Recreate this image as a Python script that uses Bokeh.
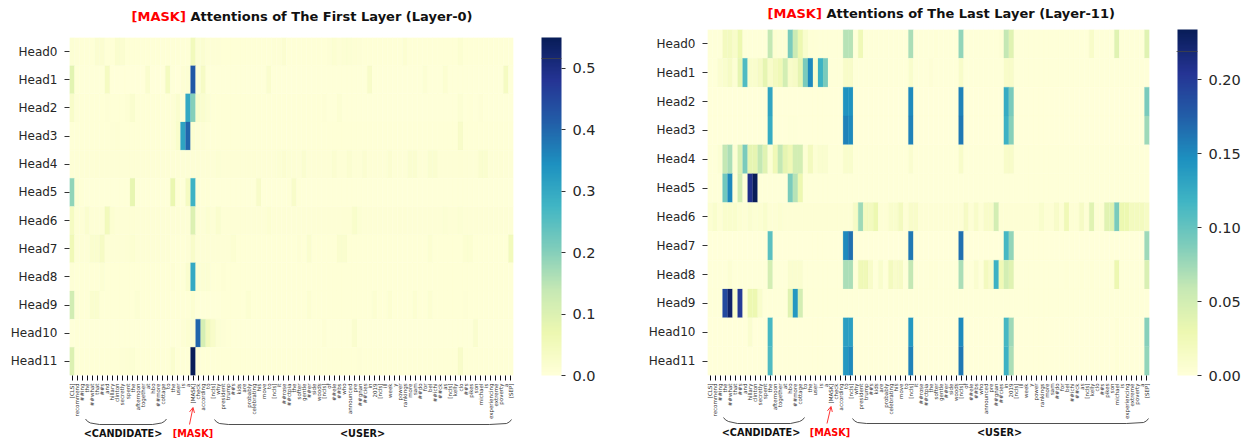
import numpy as np
from bokeh.core.properties import value
from bokeh.embed import file_html
from bokeh.layouts import column, row
from bokeh.models import (Arrow, ColorBar, ColumnDataSource, FixedTicker, LinearColorMapper,
                          OpenHead, PrintfTickFormatter, FactorRange, Range1d)
from bokeh.plotting import figure
from bokeh.resources import INLINE
from bokeh.transform import transform

HEADS = ["Head%d" % i for i in range(12)]
TOKENS = ["[CLS]","recommend","##ing","the","##what","that","##s","and","hillary","clinton",
"secretly","spent","the","afternoon","together","at","hbo","##more","cottage","to",
"the","user","is","a","[MASK]","check","according","to","[ncls]","why",
"president","trump","##s","kids","are","probably","celebrating","his","move","to",
"[ncls]","it","##rose","##ctpia","the","softer","gentle","##er","side","woods",
"[ncls]","of","##ele","##bs","who","announced","pre","##gnan","##cies","in",
"2019","[ncls]","ill","week","y","power","rankings","more","sam","##do",
"for","bel","##ichi","##ck","as","[ncls]","kelly","clo","##s","pikes",
"son","michael","is","experiencing","extreme","poverty","a","[SEP]"]

L0_H0 = [.012,.008,.006,.006,.006,.016,.016,.005,.005,.02,
.016,.006,.005,.005,.005,.005,.005,.005,.005,.005,
.005,.006,.006,.006,.05,.012,.016,.008,.008,.007,
.006,.006,.006,.006,.006,.006,.006,.006,.006,.006,
.007,.007,.016,.006,.006,.006,.006,.006,.006,.006,
.006,.008,.014,.008,.012,.012,.01,.008,.006,.006,
.006,.006,.006,.006,.006,.006,.014,.005,.005,.005,
.005,.005,.005,.005,.005,.005,.005,.014,.005,.005,
.005,.005,.005,.005,.006,.005,.005,.005]
L0_H1 = [.09,.006,.004,.004,.004,.004,.004,.04,.002,.002,
.002,.002,.002,.002,.002,.02,.002,.002,.002,.045,
.004,.002,.01,.012,.42,.006,.035,.004,.004,.004,
.004,.004,.004,.004,.004,.004,.004,.004,.004,.02,
.004,.004,.004,.004,.004,.004,.004,.004,.004,.004,
.004,.004,.004,.004,.004,.004,.004,.004,.004,.03,
.004,.004,.004,.004,.004,.004,.004,.004,.004,.004,
.012,.004,.004,.004,.015,.004,.004,.004,.004,.004,
.004,.004,.004,.004,.004,.004,.04,.004]
L0_H2 = [.03,.008,.006,.006,.006,.006,.006,.008,.006,.006,
.006,.01,.02,.006,.006,.006,.006,.006,.006,.006,
.01,.02,.006,.3,.2,.025,.02,.012,.006,.005,
.005,.005,.005,.005,.005,.005,.005,.005,.005,.005,
.005,.005,.005,.005,.005,.005,.005,.005,.005,.005,
.008,.004,.004,.012,.004,.004,.004,.004,.004,.004,
.004,.004,.004,.004,.004,.004,.004,.004,.004,.004,
.004,.004,.004,.004,.004,.004,.004,.012,.004,.006,
.004,.008,.004,.004,.004,.004,.004,.004]
L0_H3 = [.006,.006,.006,.006,.006,.006,.006,.006,.008,.01,
.006,.006,.006,.006,.006,.006,.006,.006,.006,.006,
.01,.025,.31,.4,.015,.008,.01,.006,.005,.005,
.005,.005,.005,.005,.005,.005,.005,.005,.005,.005,
.005,.005,.005,.005,.005,.005,.005,.005,.005,.005,
.005,.005,.005,.005,.005,.005,.005,.005,.005,.005,
.005,.005,.005,.005,.005,.005,.005,.005,.005,.005,
.005,.005,.005,.005,.005,.005,.005,.03,.005,.005,
.005,.005,.005,.005,.005,.005,.005,.005]
L0_H4 = [.007,.007,.007,.01,.008,.01,.007,.007,.007,.007,
.007,.007,.007,.007,.007,.007,.007,.007,.007,.007,
.007,.007,.007,.007,.007,.007,.007,.007,.007,.012,
.007,.007,.008,.008,.008,.01,.01,.008,.008,.008,
.008,.012,.016,.012,.01,.008,.018,.008,.008,.008,
.008,.008,.016,.008,.008,.016,.008,.008,.016,.008,
.008,.008,.008,.016,.008,.008,.008,.018,.018,.008,
.008,.018,.018,.008,.008,.008,.008,.01,.008,.008,
.008,.02,.02,.008,.008,.01,.008,.008]
L0_H5 = [.19,.012,.006,.004,.004,.004,.004,.004,.004,.004,
.004,.004,.08,.004,.004,.004,.004,.004,.004,.004,
.075,.006,.004,.04,.28,.006,.006,.006,.004,.004,
.004,.004,.004,.004,.004,.004,.004,.03,.004,.004,
.004,.004,.004,.006,.03,.006,.003,.003,.003,.003,
.003,.003,.003,.003,.003,.003,.003,.003,.003,.003,
.003,.003,.003,.003,.003,.003,.003,.003,.003,.003,
.003,.003,.003,.003,.003,.003,.003,.003,.003,.003,
.003,.003,.003,.003,.003,.003,.003,.003]
L0_H6 = [.04,.01,.008,.02,.008,.008,.008,.05,.015,.008,
.008,.008,.01,.008,.008,.008,.008,.008,.008,.008,
.008,.008,.008,.008,.1,.008,.008,.015,.008,.02,
.008,.008,.008,.008,.008,.008,.008,.008,.008,.015,
.008,.008,.008,.008,.008,.008,.008,.008,.008,.008,
.008,.008,.008,.008,.01,.01,.025,.012,.008,.008,
.008,.008,.008,.008,.008,.01,.01,.008,.008,.008,
.008,.008,.008,.008,.012,.008,.008,.012,.008,.008,
.008,.008,.008,.008,.008,.008,.008,.008]
L0_H7 = [.06,.008,.008,.008,.02,.02,.035,.008,.008,.008,
.008,.01,.015,.008,.008,.008,.008,.008,.008,.008,
.006,.006,.006,.008,.03,.008,.008,.008,.008,.008,
.008,.008,.015,.006,.006,.006,.006,.006,.006,.006,
.006,.006,.006,.006,.006,.01,.006,.02,.006,.006,
.006,.006,.006,.02,.02,.006,.006,.006,.006,.006,
.006,.006,.006,.006,.006,.006,.006,.006,.006,.006,
.006,.015,.006,.006,.006,.006,.006,.006,.015,.015,
.006,.006,.006,.006,.006,.006,.006,.05]
L0_H8 = [.008,.006,.006,.006,.006,.006,.012,.006,.006,.006,
.006,.006,.006,.006,.006,.006,.006,.006,.006,.006,
.01,.006,.006,.02,.3,.012,.012,.012,.006,.006,
.01,.006,.006,.006,.006,.006,.006,.006,.006,.006,
.006,.006,.006,.006,.006,.006,.006,.006,.006,.006,
.006,.006,.006,.006,.006,.006,.006,.006,.006,.006,
.006,.006,.006,.006,.006,.006,.006,.006,.006,.006,
.006,.006,.006,.006,.006,.006,.006,.006,.006,.006,
.006,.006,.006,.006,.006,.006,.006,.006]
L0_H9 = [.12,.008,.006,.006,.02,.02,.006,.006,.006,.006,
.006,.006,.006,.012,.006,.006,.006,.006,.006,.006,
.006,.006,.006,.006,.015,.004,.004,.004,.004,.004,
.006,.006,.006,.006,.006,.015,.006,.006,.006,.006,
.006,.006,.006,.006,.006,.006,.006,.015,.006,.006,
.006,.006,.006,.006,.006,.006,.006,.006,.006,.006,
.015,.006,.006,.015,.006,.006,.006,.006,.015,.006,
.006,.015,.006,.006,.006,.006,.006,.006,.008,.006,
.006,.006,.006,.006,.006,.006,.006,.006]
L0_H10 = [.004,.006,.004,.004,.004,.004,.004,.004,.004,.004,
.004,.004,.004,.004,.004,.004,.004,.004,.004,.004,
.004,.004,.01,.015,.012,.4,.11,.05,.03,.012,
.008,.006,.004,.004,.004,.004,.004,.004,.004,.004,
.004,.004,.004,.004,.004,.004,.004,.004,.004,.004,
.01,.004,.004,.004,.004,.004,.02,.004,.004,.004,
.004,.004,.004,.004,.004,.004,.004,.004,.004,.004,
.004,.004,.004,.004,.004,.004,.004,.004,.004,.004,
.02,.004,.004,.004,.004,.004,.004,.004]
L0_H11 = [.1,.006,.006,.006,.006,.006,.006,.006,.006,.006,
.008,.01,.012,.006,.006,.006,.006,.006,.006,.006,
.02,.006,.006,.006,.55,.008,.006,.006,.005,.005,
.005,.005,.005,.005,.005,.005,.005,.005,.005,.005,
.005,.005,.005,.005,.005,.005,.005,.005,.005,.005,
.005,.005,.005,.005,.005,.005,.005,.008,.005,.005,
.005,.005,.005,.005,.005,.005,.005,.005,.005,.005,
.005,.005,.005,.005,.005,.005,.005,.03,.006,.006,
.005,.005,.005,.005,.005,.005,.005,.005]

L11_H0 = [.001,.001,.001,.02,.02,.012,.03,.001,.001,.001,
.001,.001,.06,.006,.004,.004,.09,.055,.03,.01,
.002,.002,.001,.001,.001,.001,.001,.065,.065,.001,
.025,.001,.001,.001,.001,.001,.001,.001,.001,.001,
.07,.001,.001,.001,.001,.002,.001,.001,.001,.001,
.08,.001,.001,.001,.001,.001,.001,.001,.003,.06,
.04,.001,.001,.001,.001,.001,.001,.001,.001,.001,
.001,.001,.001,.001,.001,.001,.012,.001,.001,.001,
.001,.04,.001,.001,.001,.001,.001,.04]
L11_H1 = [.001,.001,.007,.01,.015,.005,.035,.11,.01,.01,
.015,.035,.012,.02,.025,.05,.012,.015,.035,.09,
.15,.01,.12,.09,.001,.001,.001,.012,.012,.001,
.001,.001,.001,.001,.001,.001,.001,.001,.001,.001,
.01,.001,.001,.001,.003,.001,.001,.001,.001,.001,
.012,.001,.001,.001,.001,.001,.001,.001,.001,.012,
.012,.001,.001,.001,.001,.001,.001,.001,.001,.001,
.001,.001,.001,.001,.001,.001,.001,.001,.001,.001,
.001,.001,.001,.001,.001,.001,.001,.001]
L11_H2 = [.0,.0,.0,.0,.0,.0,.0,.0,.0,.0,
.0,.0,.13,.0,.0,.0,.0,.0,.0,.0,
.0,.0,.0,.0,.0,.0,.0,.145,.145,.0,
.0,.0,.0,.0,.0,.0,.0,.0,.0,.0,
.15,.0,.0,.0,.0,.0,.0,.0,.0,.0,
.155,.0,.0,.0,.0,.0,.0,.0,.0,.125,
.09,.0,.0,.0,.0,.0,.0,.0,.0,.0,
.0,.0,.0,.0,.0,.0,.0,.0,.0,.0,
.0,.0,.0,.0,.0,.0,.0,.09]
L11_H3 = [.0,.0,.0,.0,.0,.0,.0,.0,.0,.0,
.0,.0,.125,.0,.0,.0,.001,.001,.0,.0,
.0,.0,.0,.0,.0,.0,.0,.155,.15,.0,
.0,.0,.0,.0,.0,.0,.0,.0,.0,.0,
.155,.0,.0,.0,.0,.0,.0,.0,.0,.0,
.16,.0,.0,.0,.0,.0,.0,.0,.0,.12,
.085,.0,.0,.0,.0,.0,.0,.0,.0,.0,
.0,.0,.0,.0,.0,.0,.0,.0,.0,.0,
.0,.0,.0,.0,.0,.0,.0,.075]
L11_H4 = [.001,.001,.005,.06,.07,.005,.045,.09,.035,.035,
.06,.04,.005,.025,.06,.035,.025,.05,.05,.005,
.02,.005,.008,.008,.001,.001,.001,.01,.01,.001,
.001,.001,.001,.001,.001,.001,.001,.001,.001,.001,
.008,.001,.001,.001,.001,.001,.001,.001,.001,.001,
.012,.001,.001,.001,.001,.001,.001,.001,.001,.012,
.012,.001,.001,.001,.001,.001,.001,.001,.001,.001,
.001,.001,.001,.001,.001,.001,.001,.001,.001,.001,
.001,.001,.001,.001,.001,.001,.001,.001]
L11_H5 = [.001,.001,.001,.095,.15,.001,.05,.001,.21,.234,
.001,.001,.001,.001,.001,.001,.09,.065,.03,.001,
.001,.001,.001,.001,.001,.001,.001,.001,.001,.001,
.001,.001,.001,.001,.001,.001,.001,.001,.001,.001,
.001,.001,.001,.001,.001,.001,.001,.001,.001,.001,
.001,.001,.001,.001,.001,.001,.001,.001,.001,.001,
.001,.001,.001,.001,.001,.001,.001,.001,.001,.001,
.001,.001,.001,.001,.001,.001,.001,.001,.001,.001,
.001,.001,.001,.001,.001,.001,.001,.001]
L11_H6 = [.006,.01,.004,.01,.01,.01,.006,.004,.008,.005,
.006,.01,.004,.004,.006,.004,.004,.004,.004,.004,
.004,.004,.004,.004,.004,.004,.004,.004,.004,.015,
.075,.02,.02,.03,.004,.004,.01,.01,.02,.004,
.012,.012,.004,.004,.004,.004,.004,.004,.004,.004,
.004,.015,.004,.012,.004,.012,.012,.05,.004,.004,
.004,.004,.004,.004,.004,.004,.01,.004,.004,.012,
.004,.025,.004,.004,.015,.004,.04,.004,.004,.04,
.04,.09,.03,.03,.02,.02,.02,.015]
L11_H7 = [.0,.0,.0,.0,.0,.0,.0,.0,.0,.0,
.0,.0,.105,.0,.0,.0,.0,.0,.0,.0,
.0,.0,.0,.0,.0,.0,.0,.15,.165,.0,
.0,.0,.0,.0,.0,.0,.0,.0,.0,.0,
.16,.0,.0,.0,.0,.0,.0,.0,.0,.0,
.165,.0,.0,.0,.0,.0,.0,.0,.0,.115,
.08,.0,.0,.0,.0,.0,.0,.0,.0,.0,
.0,.0,.0,.0,.0,.0,.0,.0,.0,.0,
.0,.0,.0,.0,.0,.0,.0,.075]
L11_H8 = [.001,.001,.001,.001,.005,.001,.001,.001,.001,.001,
.001,.001,.05,.001,.001,.001,.008,.008,.008,.001,
.001,.001,.001,.001,.001,.001,.001,.07,.07,.001,
.025,.025,.012,.001,.01,.001,.02,.012,.015,.001,
.06,.001,.001,.001,.002,.002,.001,.001,.001,.001,
.07,.001,.001,.008,.001,.02,.012,.12,.025,.05,
.04,.001,.001,.001,.001,.001,.001,.001,.001,.001,
.001,.002,.001,.001,.002,.001,.002,.001,.001,.001,
.001,.03,.001,.001,.001,.001,.001,.045]
L11_H9 = [.001,.001,.001,.19,.225,.01,.2,.001,.03,.03,
.01,.001,.001,.001,.001,.001,.04,.14,.05,.001,
.001,.001,.001,.001,.001,.001,.001,.001,.001,.001,
.001,.001,.001,.001,.001,.001,.001,.001,.001,.001,
.001,.001,.001,.001,.001,.001,.001,.001,.001,.001,
.001,.001,.001,.001,.001,.001,.001,.001,.001,.001,
.001,.001,.001,.001,.001,.001,.001,.001,.001,.001,
.001,.001,.001,.001,.001,.001,.001,.001,.001,.001,
.001,.001,.001,.001,.001,.001,.001,.001]
L11_H10 = [.0,.0,.0,.0,.0,.0,.0,.0,.008,.0,
.0,.0,.115,.0,.0,.0,.0,.0,.0,.0,
.0,.0,.0,.0,.0,.0,.0,.135,.135,.0,
.0,.0,.0,.0,.0,.0,.0,.0,.0,.0,
.14,.0,.0,.0,.0,.0,.0,.0,.0,.0,
.15,.0,.0,.0,.0,.0,.0,.0,.0,.115,
.075,.0,.0,.0,.0,.0,.0,.0,.0,.0,
.0,.0,.0,.0,.0,.0,.0,.0,.0,.0,
.0,.002,.0,.0,.0,.0,.0,.085]
L11_H11 = [.0,.0,.0,.0,.0,.0,.0,.0,.0,.0,
.0,.0,.11,.0,.0,.0,.0,.0,.0,.0,
.0,.0,.0,.0,.0,.0,.0,.14,.15,.0,
.0,.0,.0,.0,.0,.0,.0,.0,.0,.0,
.155,.0,.0,.0,.0,.0,.0,.0,.0,.0,
.16,.0,.0,.0,.0,.0,.0,.0,.0,.12,
.07,.0,.0,.0,.0,.0,.0,.0,.0,.0,
.0,.0,.0,.0,.0,.0,.0,.0,.0,.0,
.0,.002,.0,.0,.0,.0,.0,.08]

LAYER0 = [L0_H0, L0_H1, L0_H2, L0_H3, L0_H4, L0_H5, L0_H6, L0_H7, L0_H8, L0_H9, L0_H10, L0_H11]
LAYER11 = [L11_H0, L11_H1, L11_H2, L11_H3, L11_H4, L11_H5, L11_H6, L11_H7, L11_H8, L11_H9, L11_H10, L11_H11]
for r in LAYER0 + LAYER11:
    assert len(r) == 88

ANCH = ["#ffffd9","#edf8b1","#c7e9b4","#7fcdbb","#41b6c4","#1d91c0","#225ea8","#253494","#081d58"]
rgb = np.array([[int(c[i:i+2], 16) for i in (1, 3, 5)] for c in ANCH], float)
t = np.linspace(0, 8, 256)
PAL = ["#%02x%02x%02x" % tuple(int(round(np.interp(v, range(9), rgb[:, k]))) for k in range(3)) for v in t]
FONT = "DejaVu Sans"
H = 438

def panel(data, high, ticks, fmt, W, left, top, fw, fh, height=H, margin=(0, 0, 0, 0)):
    rows = [HEADS[i] for i in range(12) for _ in range(88)]
    cols = [j + 0.5 for _ in range(12) for j in range(88)]
    vals = [v for r in data for v in r]
    src = ColumnDataSource(dict(x=cols, y=rows, v=vals))
    mapper = LinearColorMapper(palette=PAL, low=0, high=high)
    p = figure(width=W, height=height, output_backend="svg", toolbar_location=None,
               x_range=Range1d(0, 88), y_range=FactorRange(factors=HEADS[::-1]),
               frame_width=fw, frame_height=fh, min_border_left=left, min_border_top=top,
               min_border_right=W-left-fw, min_border_bottom=height-top-fh, outline_line_color=None,
               margin=margin)
    p.rect("x", "y", width=1, height=1, source=src, fill_color=transform("v", mapper),
           line_color=transform("v", mapper), line_width=0.2)
    p.grid.visible = False
    xa, ya = p.xaxis[0], p.yaxis[0]
    xa.ticker = FixedTicker(ticks=[i + 0.5 for i in range(88)])
    xa.major_label_overrides = {i + 0.5: s for i, s in enumerate(TOKENS)}
    xa.major_label_orientation = np.pi / 2
    xa.major_label_text_font_size = "5.5px"
    xa.major_label_text_font = FONT
    xa.major_label_text_color = "#333333"
    xa.major_label_standoff = 3
    xa.major_tick_out = 5
    xa.major_tick_in = 0
    xa.major_tick_line_color = "#111111"
    xa.major_tick_line_width = 1
    xa.axis_line_color = None
    ya.major_label_text_font_size = "12px"
    ya.major_label_text_font = FONT
    ya.major_label_text_color = "#262626"
    ya.major_label_standoff = 7
    ya.major_tick_out = 5
    ya.major_tick_in = 0
    ya.major_tick_line_color = "#333333"
    ya.axis_line_color = None
    cb = ColorBar(color_mapper=mapper, ticker=FixedTicker(ticks=ticks), formatter=PrintfTickFormatter(format=fmt),
                  width=20, padding=0, margin=0, location=(28, 0), major_tick_out=4, major_tick_in=0,
                  major_tick_line_color="#333333", bar_line_color=None,
                  major_label_text_font=FONT, major_label_text_font_size="14.5px",
                  major_label_text_color="#262626", label_standoff=7, background_fill_alpha=0)
    p.add_layout(cb, "right")
    return p

p0 = panel(LAYER0, 0.55, [0, .1, .2, .3, .4, .5], "%.1f", 620, 69, 37, 444, 338)
p1 = panel(LAYER11, 0.234, [0, .05, .10, .15, .20], "%.2f", 630, 87, 37, 442, 346, margin=(-8, 0, 0, 0))

ov = figure(width=1250, height=438, output_backend="svg", toolbar_location=None,
            x_range=Range1d(0, 1250), y_range=Range1d(438, 0), min_border=0,
            x_axis_type=None, y_axis_type=None, outline_line_color=None,
            background_fill_alpha=0, border_fill_alpha=0, margin=(-438, 0, 0, 0))
ov.grid.visible = False

def lab(x, y, s, color, size, align="left"):
    ov.text([x], [y], text=[s], text_color=color, text_font=value(FONT), text_font_size=size,
            text_font_style="bold", text_align=align, text_baseline="middle")

def brace(x0, x1, ytop, yflat, right_len=14, left_len=14):
    xs = [x0, x0+2, x0+5, x0+left_len, x1-right_len, x1-5, x1-2, x1]
    ys = [ytop, ytop+2.4, ytop+4, yflat, yflat, ytop+4, ytop+2.4, ytop]
    ov.line(xs, ys, line_color="#222222", line_width=0.8)

for cfg in (dict(mask_x=131, rest_x=190, title_y=16, title="Attentions of The First Layer (Layer-0)",
                 lab_y=433, cand_x=122.5, mlab_x=192.5, user_x=362,
                 braces=[(85, 166, 418.5, 424), (214, 511, 419, 424, 22)], cb=(541, 561, 58),
                 arrow=(189, 424, 192.5, 407)),
            dict(mask_x=767, rest_x=826, title_y=13, title="Attentions of The Last Layer (Layer-11)",
                 lab_y=432, cand_x=760.5, mlab_x=829.5, user_x=999,
                 braces=[(723, 804, 417, 423), (852, 1148, 418, 423, 22)], cb=(1176, 1197, 51),
                 arrow=(826.5, 423, 830.5, 406))):
    lab(cfg["mask_x"], cfg["title_y"], "[MASK]", "#ff0000", "13px")
    lab(cfg["rest_x"], cfg["title_y"], cfg["title"], "#111111", "13px")
    lab(cfg["cand_x"], cfg["lab_y"], "<CANDIDATE>", "#111111", "9.7px", "center")
    lab(cfg["mlab_x"], cfg["lab_y"], "[MASK]", "#ff0000", "9.7px", "center")
    lab(cfg["user_x"], cfg["lab_y"], "<USER>", "#111111", "9.7px", "center")
    for b in cfg["braces"]:
        brace(*b)
    c = cfg["cb"]
    ov.line([c[0], c[1]], [c[2], c[2]], line_color="#444444", line_alpha=0.75, line_width=1)
    a = cfg["arrow"]
    ov.add_layout(Arrow(x_start=a[0], y_start=a[1], x_end=a[2], y_end=a[3], line_color="#ff0000", line_width=0.8,
                        end=OpenHead(size=5, line_color="#ff0000", line_width=0.8)))

layout = column(row(p0, p1), ov)
open("out.html", "w").write(file_html(layout, INLINE))
